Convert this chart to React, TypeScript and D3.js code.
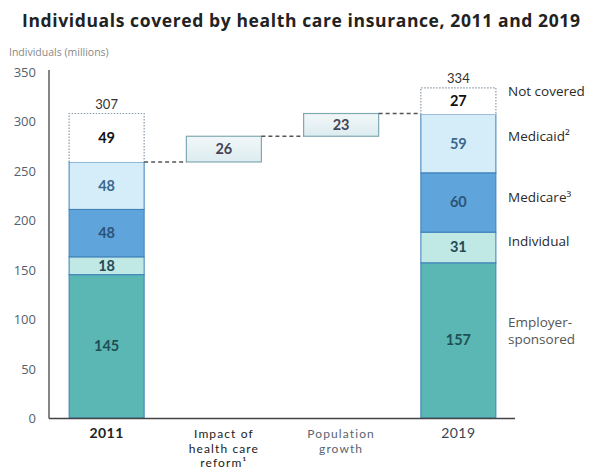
import React from "react";
import * as d3 from "d3";

const categories = ["2011", "Impact", "Population", "2019"];
const categoryLines = [["2011"], ["Impact of", "health care", "reform¹"], ["Population", "growth"], ["2019"]];
const segments = ["Employer-sponsored", "Individual", "Medicare", "Medicaid", "Not covered"];
const values2011 = [145, 18, 48, 48, 49];
const values2019 = [157, 31, 60, 59, 27];
const totals = [307, 334];
const bridgeValues = [26, 23];
const yTicks = [0, 50, 100, 150, 200, 250, 300, 350];
const legendLines = [["Not covered"], ["Medicaid²"], ["Medicare³"], ["Individual"], ["Employer-", "sponsored"]];

const fills = ["#5bb7b3", "#c0e8e5", "#60a4dc", "#d5edf8", "#ffffff"];
const labelColors = ["#1f4f55", "#254a55", "#2b5479", "#3b6890", "#111111"];

export default function App() {
  const W = 602, H = 473;
  const y = d3.scaleLinear().domain([0, 350]).range([418, 72]);
  const x = d3.scaleBand().domain(categories).range([48, 517]).paddingInner(0.36).paddingOuter(0.18);
  const bw = x.bandwidth();
  const font = "'Open Sans', sans-serif";
  const lato = "Lato, sans-serif";

  const stackBar = (vals: number[], cat: string, total: number) => {
    const x0 = x(cat)!;
    let acc = 0;
    const els: React.ReactNode[] = [];
    vals.forEach((v, i) => {
      const y0 = y(acc), y1 = y(acc + v);
      acc += v;
      const last = i === vals.length - 1;
      els.push(
        <rect key={cat + "r" + i} x={x0} y={y1} width={bw} height={y0 - y1}
          fill={fills[i]} stroke={last ? "none" : "#3b7fb8"} strokeWidth={1} />
      );
      if (last) {
        els.push(
          <path key={cat + "d" + i} d={`M${x0},${y0}V${y1}H${x0 + bw}V${y0}`} fill="none"
            stroke="#8a99a6" strokeWidth={1.2} strokeDasharray="1.5,1.5" />
        );
      }
      els.push(
        <text key={cat + "t" + i} x={x0 + bw / 2} y={(y0 + y1) / 2 + 5} textAnchor="middle"
          fontSize={14.5} fontWeight={700} fill={labelColors[i]} fontFamily={lato}>{v}</text>
      );
    });
    els.push(
      <text key={cat + "tot"} x={x0 + bw / 2} y={y(acc) - 5} textAnchor="middle" fontSize={13}
        fill="#333" fontFamily={lato}>{total}</text>
    );
    return els;
  };

  const covered2011 = d3.sum(values2011.slice(0, 4));
  const b1lo = covered2011, b1hi = covered2011 + bridgeValues[0];
  const b2lo = b1hi, b2hi = b1hi + bridgeValues[1];
  const bridges = [
    { cat: categories[1], lo: b1lo, hi: b1hi, v: bridgeValues[0] },
    { cat: categories[2], lo: b2lo, hi: b2hi, v: bridgeValues[1] },
  ];
  const x2011r = x(categories[0])! + bw;
  const x2019l = x(categories[3])!;
  const legendY = [96, 141, 202, 246, 327];

  return (
    <svg width={W} height={H} style={{ position: "absolute", left: 0, top: 0, background: "#fff" }}>
      <defs>
        <linearGradient id="bridgeGrad" x1="0" y1="0" x2="0" y2="1">
          <stop offset="0" stopColor="#f2f7f8" />
          <stop offset="1" stopColor="#dcecf0" />
        </linearGradient>
      </defs>
      <text x={22} y={27} fontSize={17.5} fontWeight={700} fill="#222" fontFamily={font}
        textLength={558} lengthAdjust="spacing">
        Individuals covered by health care insurance, 2011 and 2019
      </text>
      <text x={9} y={56} fontSize={10.5} fill="#888" fontFamily={font}>Individuals (millions)</text>

      {yTicks.map(t => (
        <text key={t} x={36} y={y(t) + 5} textAnchor="end" fontSize={13} fill="#55606e" fontFamily={font}>{t}</text>
      ))}
      <line x1={49} x2={49} y1={70} y2={418.5} stroke="#444" strokeWidth={1.3} />

      {stackBar(values2011, categories[0], totals[0])}
      {stackBar(values2019, categories[3], totals[1])}

      {bridges.map((b, i) => (
        <g key={"b" + i}>
          <rect x={x(b.cat)!} y={y(b.hi)} width={bw} height={y(b.lo) - y(b.hi)} fill="url(#bridgeGrad)"
            stroke="#7fa9b3" strokeWidth={1.2} />
          <text x={x(b.cat)! + bw / 2} y={(y(b.lo) + y(b.hi)) / 2 + 5} textAnchor="middle" fontSize={14.5}
            fontWeight={700} fill="#445" fontFamily={lato}>{b.v}</text>
        </g>
      ))}
      <g stroke="#555" strokeWidth={1.5} strokeDasharray="4,3">
        <line x1={x2011r} x2={x(categories[1])!} y1={y(b1lo)} y2={y(b1lo)} />
        <line x1={x(categories[1])! + bw} x2={x(categories[2])!} y1={y(b1hi)} y2={y(b1hi)} />
        <line x1={x(categories[2])! + bw} x2={x2019l} y1={y(b2hi)} y2={y(b2hi)} />
      </g>

      <line x1={49} x2={515} y1={418.5} y2={418.5} stroke="#444" strokeWidth={1.3} />

      {categoryLines.map((lines, i) => (
        <text key={"c" + i} textAnchor="middle" fontSize={i === 0 || i === 3 ? 14 : 12} fontFamily={lato}
          letterSpacing={i === 0 || i === 3 ? 0.5 : 1.1}
          fill={i === 2 ? "#5a6470" : i === 3 ? "#3a4550" : "#222"} fontWeight={i === 0 ? 700 : 400}>
          {lines.map((l, j) => (
            <tspan key={j} x={x(categories[i])! + bw / 2} y={438 + j * 14.5}>{l}</tspan>
          ))}
        </text>
      ))}

      {legendLines.map((lines, i) => (
        <text key={"l" + i} fontSize={13.5} fontFamily={font} fill={i === 4 ? "#555" : "#2a2a2a"}>
          {lines.map((l, j) => (
            <tspan key={j} x={508} y={legendY[i] + j * 17}>{l}</tspan>
          ))}
        </text>
      ))}
    </svg>
  );
}
